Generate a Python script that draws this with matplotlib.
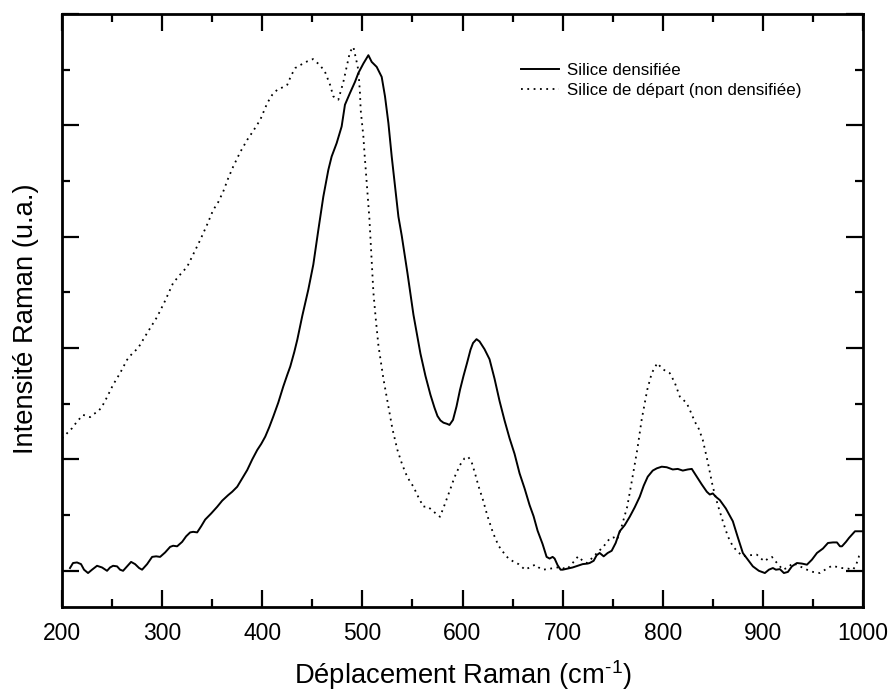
import matplotlib
matplotlib.use("Agg")
import matplotlib.pyplot as plt
from matplotlib.ticker import MultipleLocator, NullFormatter

plt.rcParams['font.family'] = ['Liberation Sans', 'DejaVu Sans']

# Silice densifiée (solid): (Raman shift, intensity)
dens_pts = [
    (208, 0.05), (211, 0.14), (215, 0.15), (219, 0.12), (222, 0.02), (226, -0.04), (230, 0.02),
    (235, 0.09), (240, 0.06), (245, 0.0), (248, 0.06), (251, 0.09), (255, 0.08), (258, 0.02),
    (261, 0.0), (265, 0.08), (269, 0.16), (273, 0.12), (277, 0.05), (280, 0.02), (285, 0.12),
    (290, 0.25), (294, 0.26), (298, 0.25), (303, 0.33), (308, 0.43), (311, 0.45), (315, 0.44),
    (320, 0.52), (324, 0.62), (328, 0.69), (331, 0.70), (335, 0.69), (339, 0.80), (343, 0.92),
    (349, 1.03), (355, 1.15), (360, 1.26), (366, 1.36), (370, 1.42), (375, 1.51), (380, 1.66),
    (385, 1.81), (390, 2.00), (395, 2.17), (399, 2.28), (403, 2.41), (407, 2.58), (411, 2.77),
    (416, 3.02), (421, 3.31), (425, 3.52), (428, 3.67), (432, 3.93), (435, 4.15), (440, 4.58),
    (446, 5.05), (451, 5.50), (456, 6.12), (461, 6.72), (466, 7.20), (469.3, 7.44), (474.3, 7.68),
    (479.3, 7.98), (482.6, 8.37), (487.6, 8.58), (492.6, 8.78), (496, 8.94), (501, 9.11),
    (504, 9.20), (506, 9.26), (509.3, 9.14), (514.3, 9.05), (519.3, 8.87), (522.6, 8.52),
    (526, 8.04), (529.3, 7.44), (532.6, 6.90), (536, 6.36), (539.3, 6.02), (545, 5.35),
    (551, 4.60), (558, 3.90), (563, 3.50), (568, 3.16), (572, 2.93), (575, 2.78), (578, 2.70),
    (581, 2.66), (584.5, 2.64), (587, 2.62), (590.5, 2.71), (594, 2.95), (597.5, 3.25),
    (601, 3.50), (604.5, 3.73), (608, 3.97), (610.5, 4.09), (614, 4.16), (617, 4.12),
    (622, 3.98), (627, 3.80), (632, 3.45), (637, 3.05), (642, 2.70), (647, 2.38), (652, 2.10),
    (657, 1.75), (662, 1.48), (667, 1.18), (671, 0.98), (675, 0.72), (680, 0.48), (684, 0.25),
    (687, 0.22), (690, 0.25), (692, 0.22), (695, 0.10), (698, 0.02), (700, 0.02), (705, 0.04),
    (710, 0.06), (715, 0.09), (720, 0.12), (725, 0.13), (727, 0.14), (731, 0.18), (734, 0.28),
    (737, 0.32), (741, 0.26), (745, 0.32), (749, 0.36), (753, 0.50), (757, 0.71), (762, 0.82),
    (767, 0.97), (772, 1.14), (777, 1.33), (781, 1.53), (785, 1.69), (790, 1.80), (794, 1.84),
    (799, 1.87), (804, 1.86), (810, 1.82), (815, 1.83), (820, 1.80), (825, 1.82), (829, 1.83),
    (834, 1.69), (839, 1.55), (844, 1.42), (847, 1.37), (850, 1.39), (853, 1.33), (857, 1.27),
    (863, 1.12), (870, 0.89), (875, 0.60), (880, 0.32), (885, 0.20), (890, 0.08), (896, 0.00),
    (902, -0.04), (906, 0.02), (910, 0.05), (913, 0.02), (917, 0.03), (921, -0.04), (925, -0.02),
    (929, 0.08), (934, 0.14), (939, 0.13), (944, 0.11), (949, 0.20), (954, 0.32), (960, 0.40),
    (965, 0.50), (970, 0.51), (974, 0.51), (977, 0.44), (979, 0.44), (983, 0.52), (986, 0.59),
    (989, 0.65), (992, 0.71), (996, 0.71), (1000, 0.71),
]

# Silice de départ (dotted): (Raman shift, intensity)
dep_pts = [
    (200, 2.38), (205, 2.47), (210, 2.56), (215, 2.68), (221, 2.80), (225, 2.78), (228, 2.76),
    (232, 2.82), (236, 2.86), (240, 2.95), (245, 3.12), (251, 3.34), (258, 3.55), (265, 3.79),
    (270, 3.90), (276, 4.00), (285, 4.27), (295, 4.56), (303, 4.85), (311, 5.17), (318, 5.32),
    (325, 5.46), (331, 5.68), (338, 5.94), (345, 6.22), (351, 6.48), (356, 6.62), (361, 6.81),
    (366, 7.05), (371, 7.26), (378, 7.52), (385, 7.74), (391, 7.90), (398, 8.10), (405, 8.40),
    (410, 8.55), (415, 8.64), (420, 8.68), (425, 8.73), (429, 8.90), (433, 9.03), (437.7, 9.08),
    (445, 9.15), (450.7, 9.19), (457.7, 9.08), (462.7, 8.96), (467.7, 8.73), (471, 8.52),
    (476, 8.46), (481, 8.78), (484.3, 9.05), (487.6, 9.32), (491, 9.41), (494.3, 9.14),
    (496, 8.99), (497.6, 8.58), (498.3, 8.28), (501, 7.80), (502, 7.53), (503.6, 7.14),
    (505, 6.81), (507, 6.33), (509, 5.65), (511, 5.00), (513.5, 4.50), (516, 4.05), (521, 3.45),
    (526, 2.95), (530, 2.55), (535, 2.17), (539, 1.95), (543, 1.76), (547, 1.62), (551, 1.51),
    (556, 1.32), (561, 1.15), (564, 1.16), (567.5, 1.12), (572, 1.05), (577.5, 0.97),
    (582, 1.18), (587.5, 1.45), (592, 1.68), (597.5, 1.90), (602, 2.02), (605.5, 2.05),
    (609, 1.96), (612.5, 1.75), (616, 1.52), (620.5, 1.27), (625, 0.98), (630.5, 0.68),
    (636, 0.45), (642.5, 0.29), (646, 0.22), (650.5, 0.17), (656, 0.12), (662.5, 0.02),
    (667, 0.06), (672.5, 0.11), (676, 0.06), (680.5, 0.02), (688, 0.04), (694.5, 0.06),
    (700, 0.05), (704.5, 0.03), (710, 0.14), (715.5, 0.26), (720, 0.18), (724.5, 0.14),
    (730, 0.24), (734.5, 0.32), (741, 0.44), (747.5, 0.59), (751, 0.60), (754.5, 0.56),
    (759, 0.80), (764.5, 1.15), (769, 1.60), (774.5, 2.17), (779, 2.72), (784.5, 3.25),
    (789, 3.55), (794.5, 3.73), (800, 3.62), (807, 3.55), (812, 3.38), (817, 3.13), (824, 3.01),
    (828, 2.85), (832, 2.68), (836, 2.55), (840, 2.35), (845, 1.95), (850, 1.51), (855, 1.18),
    (860, 0.89), (865, 0.62), (870, 0.44), (875, 0.34), (880, 0.26), (887, 0.28), (894, 0.29),
    (898, 0.22), (902, 0.17), (905, 0.22), (909, 0.25), (915, 0.12), (920, 0.02), (925, 0.06),
    (930, 0.14), (937, 0.08), (944, 0.02), (950, -0.02), (957, -0.04), (963, 0.03), (969, 0.09),
    (974, 0.07), (979, 0.05), (985, 0.04), (990, 0.02), (993, 0.10), (996, 0.26), (1000, 0.32),
]

dens_x = [p[0] for p in dens_pts]
dens_y = [p[1] for p in dens_pts]
dep_x = [p[0] for p in dep_pts]
dep_y = [p[1] for p in dep_pts]

x_ticks = [200, 300, 400, 500, 600, 700, 800, 900, 1000]
series_labels = ['Silice densifiée', 'Silice de départ (non densifiée)']

fig = plt.figure(figsize=(8.9, 6.94), dpi=100)
ax = fig.add_axes([62/890, 1-607/694, 801/890, 593/694])

ax.plot(dens_x, dens_y, color='black', lw=1.4, ls='-', label=series_labels[0])
ax.plot(dep_x, dep_y, color='black', lw=1.3, ls=(0, (1, 2.5)), label=series_labels[1])

ax.set_xlim(200, 1000)
ax.set_ylim(-0.65, 10.0)
ax.set_xticks(x_ticks)
ax.set_xticklabels([str(v) for v in x_ticks])
ax.xaxis.set_minor_locator(MultipleLocator(50))
ax.yaxis.set_major_locator(MultipleLocator(2))
ax.yaxis.set_minor_locator(MultipleLocator(1))
ax.yaxis.set_major_formatter(NullFormatter())

ax.tick_params(which='both', direction='in', top=True, right=True, width=1.6, colors='black')
ax.tick_params(which='major', length=12, labelsize=16.5, pad=11)
ax.tick_params(which='minor', length=6)
for s in ax.spines.values():
    s.set_linewidth(2)

ax.set_xlabel('Déplacement Raman (cm$^{\\mathregular{\u2010}\\mathregular{1}}$)', fontsize=19.7, labelpad=9)
ax.set_ylabel('Intensité Raman (u.a.)', fontsize=19.7)
ax.yaxis.set_label_coords(-0.029, 0.486)

ax.legend(loc='upper left', bbox_to_anchor=(0.563, 0.932), frameon=False, fontsize=12.2,
          handlelength=2.2, handletextpad=0.5, labelspacing=0.3, borderpad=0)

fig.savefig('out.png', dpi=100)
